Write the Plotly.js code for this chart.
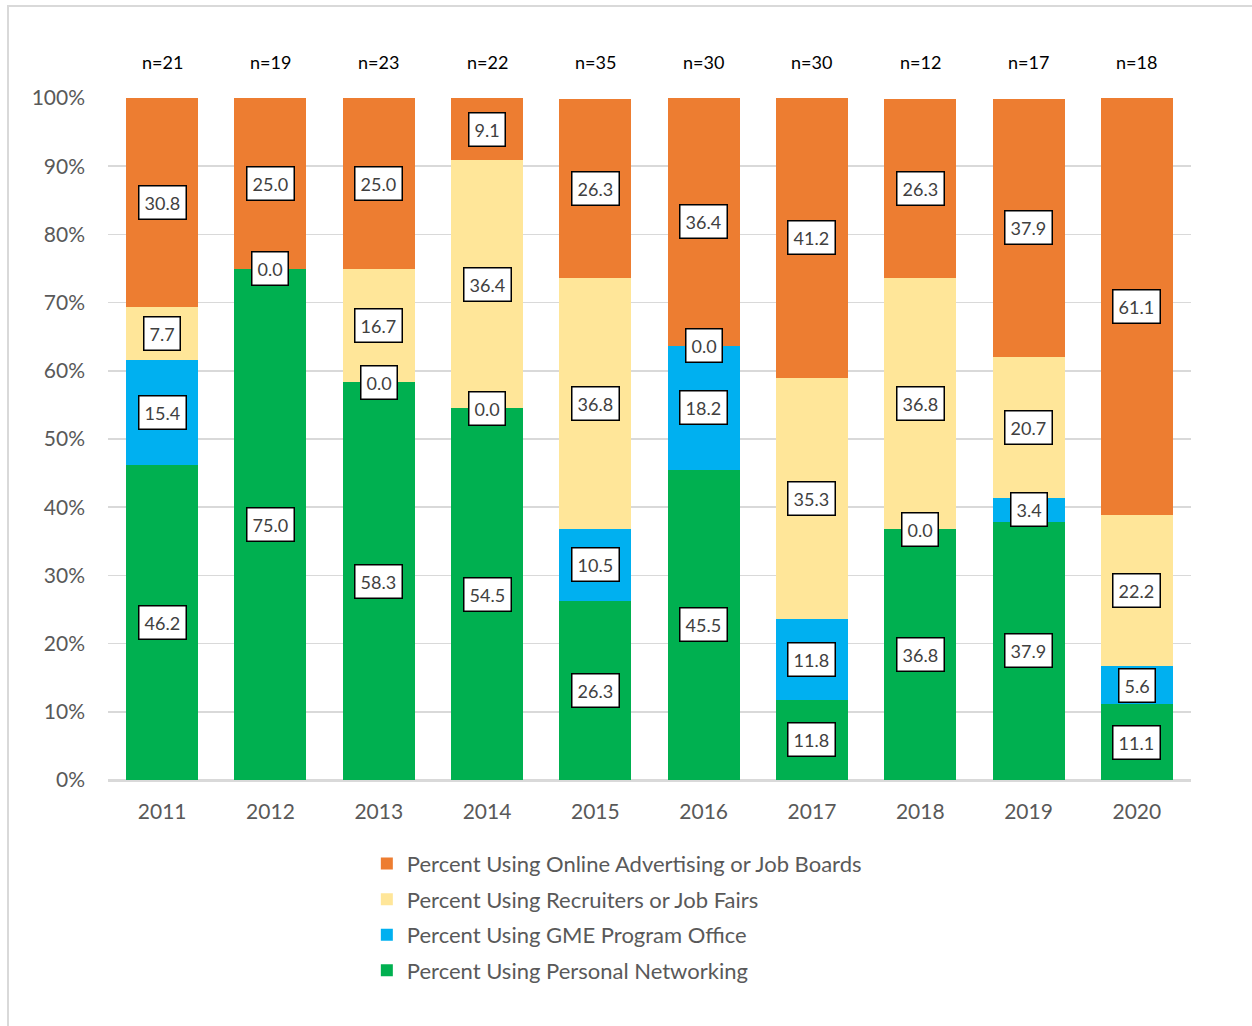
<!DOCTYPE html>
<html>
<head>
<meta charset="utf-8">
<script src="https://cdn.plot.ly/plotly-3.0.1.min.js"></script>
<style>
  html, body { margin: 0; padding: 0; background: #ffffff; }
  #chart { width: 1252px; height: 1026px; }
  #frame { position: absolute; left: 7px; top: 5px; width: 1270px; height: 1040px;
           border: 2px solid #d9d9d9; pointer-events: none; box-sizing: border-box; }
</style>
</head>
<body>
<div id="chart"></div>
<div id="frame"></div>
<script>
// ---- data ----
var years = ['2011','2012','2013','2014','2015','2016','2017','2018','2019','2020'];
var sampleSizes = [21, 19, 23, 22, 35, 30, 30, 12, 17, 18];
var personalNetworking = [46.2, 75.0, 58.3, 54.5, 26.3, 45.5, 11.8, 36.8, 37.9, 11.1];
var gmeProgramOffice   = [15.4, 0.0, 0.0, 0.0, 10.5, 18.2, 11.8, 0.0, 3.4, 5.6];
var recruitersJobFairs = [7.7, 0.0, 16.7, 36.4, 36.8, 0.0, 35.3, 36.8, 20.7, 22.2];
var onlineAdvertising  = [30.8, 25.0, 25.0, 9.1, 26.3, 36.4, 41.2, 26.3, 37.9, 61.1];

var seriesNames = [
  'Percent Using Personal Networking',
  'Percent Using GME Program Office',
  'Percent Using Recruiters or Job Fairs',
  'Percent Using Online Advertising or Job Boards'
];
var seriesValues = [personalNetworking, gmeProgramOffice, recruitersJobFairs, onlineAdvertising];
var seriesColors = ['#00b050', '#00b0f0', '#ffe699', '#ed7d31'];

var FONT = 'Lato, "Open Sans", sans-serif';

var traces = seriesValues.map(function (vals, i) {
  return {
    type: 'bar',
    x: years,
    y: vals,
    name: seriesNames[i],
    legendgroup: 'g' + i,
    legendrank: seriesValues.length - i,
    marker: { color: seriesColors[i], line: { width: 0 } },
    hoverinfo: 'x+y+name'
  };
});

// data label annotations centred in each segment (x given as category index)
var annotations = [];
var base = years.map(function () { return 0; });
seriesValues.forEach(function (vals) {
  vals.forEach(function (v, j) {
    annotations.push({
      x: j, xref: 'x',
      y: base[j] + v / 2, yref: 'y',
      text: v.toFixed(1),
      showarrow: false,
      font: { family: FONT, size: 18, color: '#404040' },
      bgcolor: '#ffffff',
      bordercolor: '#000000',
      borderwidth: 1.5,
      borderpad: 5
    });
    base[j] += v;
  });
});

// sample-size labels above bars
sampleSizes.forEach(function (n, j) {
  annotations.push({
    x: j, xref: 'x',
    y: 1.0535, yref: 'paper', yanchor: 'middle', xanchor: 'center',
    text: 'n=' + n,
    showarrow: false,
    font: { family: FONT, size: 18, color: '#000000' }
  });
});

var layout = {
  width: 1252,
  height: 1026,
  margin: { l: 108, r: 61, t: 98, b: 246 },
  paper_bgcolor: '#ffffff',
  plot_bgcolor: '#ffffff',
  barmode: 'stack',
  bargap: 0.335,
  font: { family: FONT, color: '#595959' },
  xaxis: {
    type: 'category',
    range: [-0.5, years.length - 0.5],
    tickfont: { family: FONT, size: 21, color: '#595959' },
    showgrid: false,
    showline: true,
    linecolor: '#d9d9d9',
    linewidth: 1.5,
    ticks: '',
    ticklabelstandoff: 12,
    fixedrange: true
  },
  yaxis: {
    range: [0, 100],
    dtick: 10,
    tick0: 0,
    ticksuffix: '%',
    tickfont: { family: FONT, size: 21, color: '#595959' },
    showgrid: true,
    gridcolor: '#d9d9d9',
    gridwidth: 1.5,
    zeroline: true,
    zerolinecolor: '#d9d9d9',
    zerolinewidth: 1.5,
    ticks: '',
    ticklabelstandoff: 22,
    fixedrange: true
  },
  showlegend: true,
  legend: {
    orientation: 'v',
    x: 0.239, xanchor: 'left',
    y: -0.092, yanchor: 'top',
    traceorder: 'grouped',
    tracegroupgap: 4,
    itemwidth: 30,
    font: { family: FONT, size: 22, color: '#595959' },
    bgcolor: 'rgba(0,0,0,0)'
  },
  annotations: annotations
};

Plotly.newPlot('chart', traces, layout, { displayModeBar: false, staticPlot: true });
</script>
</body>
</html>
